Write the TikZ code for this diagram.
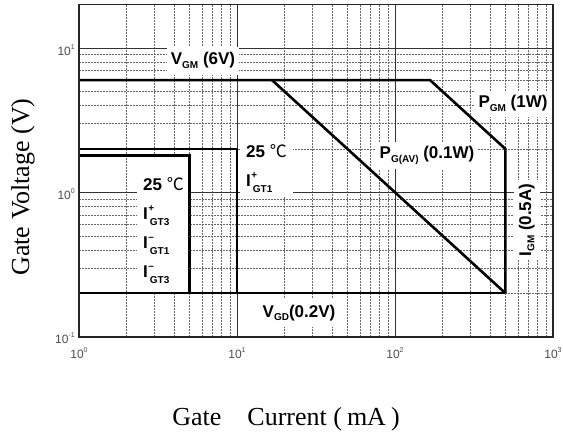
\documentclass[tikz,border=0pt]{standalone}
\usepackage{fontspec}
\setmainfont{Liberation Serif}
\setsansfont{Liberation Sans}
\newfontfamily\cjk{Noto Sans CJK SC}

\newcommand{\tagfont}{\sffamily\bfseries\fontsize{17}{29}\selectfont}
\newcommand{\tickfont}{\sffamily\fontsize{12}{12}\selectfont}
\newcommand{\axisfont}{\rmfamily\fontsize{26}{30}\selectfont}
\newcommand{\lo}[1]{\raisebox{-0.2em}{\fontsize{10}{10}\selectfont #1}}
\newcommand{\hilo}[2]{\makebox[0pt][l]{\hspace{0.5pt}\raisebox{0.45em}{\fontsize{10}{10}\selectfont #1}}\hspace{2pt}\raisebox{-0.4em}{\fontsize{10}{10}\selectfont #2}}
\newcommand{\dec}[1]{10\raisebox{0.5em}{\fontsize{7}{7}\selectfont #1}}
\newcommand{\degc}{{\cjk\mdseries ℃}}

\begin{document}
\begin{tikzpicture}[x=1pt,y=1pt]
  \tikzstyle{minor}=[black!60, line width=0.5pt, dash pattern=on 2pt off 1pt]
  \tikzstyle{major}=[black!80, line width=0.6pt]
  \tikzstyle{limit}=[black, line width=2.6pt]
  \tikzstyle{frame}=[black!85, line width=1.6pt]
  \tikzstyle{tag}=[font=\tagfont, fill=white, inner xsep=4pt, inner ysep=5pt]
  \tikzstyle{tick}=[font=\tickfont, text=black!70, inner sep=1pt]
  \tikzstyle{axis}=[font=\axisfont]

  \useasboundingbox (0,0) rectangle (563,432);

  \begin{scope}[shift={(79,95.3)}, x=158pt, y=144.3pt]
    \coordinate (org) at (0,0);
    \coordinate (top) at (3,{log10(20)+1});

    \foreach \p in {0,1,2}
      \foreach \q in {2,...,9}
        \draw[minor] ({\p+log10(\q)},0) -- ({\p+log10(\q)},{log10(20)+1});
    \foreach \p in {0,1}
      \foreach \q in {2,...,9}
        \draw[minor] (0,{\p+log10(\q)}) -- (3,{\p+log10(\q)});
    \foreach \p in {1,2}
      \draw[major] (\p,0) -- (\p,{log10(20)+1})
                   (0,\p) -- (3,\p);

    \coordinate (vgm0) at (0,{log10(6)+1});
    \coordinate (vgm1) at ({log10(1000/6)},{log10(6)+1});
    \coordinate (pgm1) at ({log10(500)},{log10(2)+1});
    \coordinate (igm0) at ({log10(500)},{log10(0.2)+1});
    \coordinate (vgd0) at (0,{log10(0.2)+1});
    \coordinate (pav0) at ({log10(100/6)},{log10(6)+1});
    \coordinate (gt1a) at (0,{log10(2)+1});
    \coordinate (gt1b) at (1,{log10(2)+1});
    \coordinate (gt1c) at (1,{log10(0.2)+1});
    \coordinate (gt3a) at (0,{log10(1.8)+1});
    \coordinate (gt3b) at ({log10(5)},{log10(1.8)+1});
    \coordinate (gt3c) at ({log10(5)},{log10(0.2)+1});

    \foreach \p in {0,1,2,3}
      \node[tick, anchor=base, yshift=-22pt] (xt\p) at (\p,0) {\dec{\p}};
    \foreach \p/\t in {0/-1,1/0,2/1}
      \node[tick, anchor=base east, xshift=-3pt, yshift=-7pt] (yt\p) at (0,\p) {\dec{\t}};
  \end{scope}

  \node[tag, anchor=base, inner ysep=6pt] (vgm) at (203,367) {V\lo{GM} (6V)};
  \node[tag, anchor=base] (pgm) at (513,324) {P\lo{GM} (1W)};
  \node[tag, anchor=base] (pav) at (427,273) {P\lo{G(AV)} (0.1W)};
  \node[tag, anchor=base, inner ysep=6pt] (vgd) at (299,115) {V\lo{GD}(0.2V)};
  \node[tag, anchor=base, rotate=90] (igm) at (531,212) {I\lo{GM} (0.5A)};
  \node[tag, anchor=north west, align=left, inner xsep=6pt, inner ysep=4pt] (gt1) at (240,292) {25 \degc\\I\hilo{+}{GT1}};
  \fill[white] (137,140) rectangle (188,277);
  \node[tag, fill=none, anchor=north west, align=left, inner xsep=6pt, inner ysep=4pt] (gt3) at (137,259) {25 \degc\\I\hilo{+}{GT3}\\I\hilo{–}{GT1}\\I\hilo{–}{GT3}};

  \draw[limit] (vgm0) -- (vgm1) -- (pgm1) -- (igm0);
  \draw[limit] (vgd0) -- (igm0);
  \draw[limit] (pav0) -- (igm0);
  \draw[limit] (gt1a) -- (gt1b) -- (gt1c);
  \draw[limit] (gt3a) -- (gt3b) -- (gt3c);
  \draw[frame] (org) rectangle (top);

  \node[axis, anchor=base, rotate=90] (ylab) at (29,245) {Gate Voltage (V)};
  \node[axis, anchor=base] (xlab) at (286,7) {Gate\hspace{26pt}Current (\hspace{5pt}mA\hspace{5pt})};
\end{tikzpicture}
\end{document}
